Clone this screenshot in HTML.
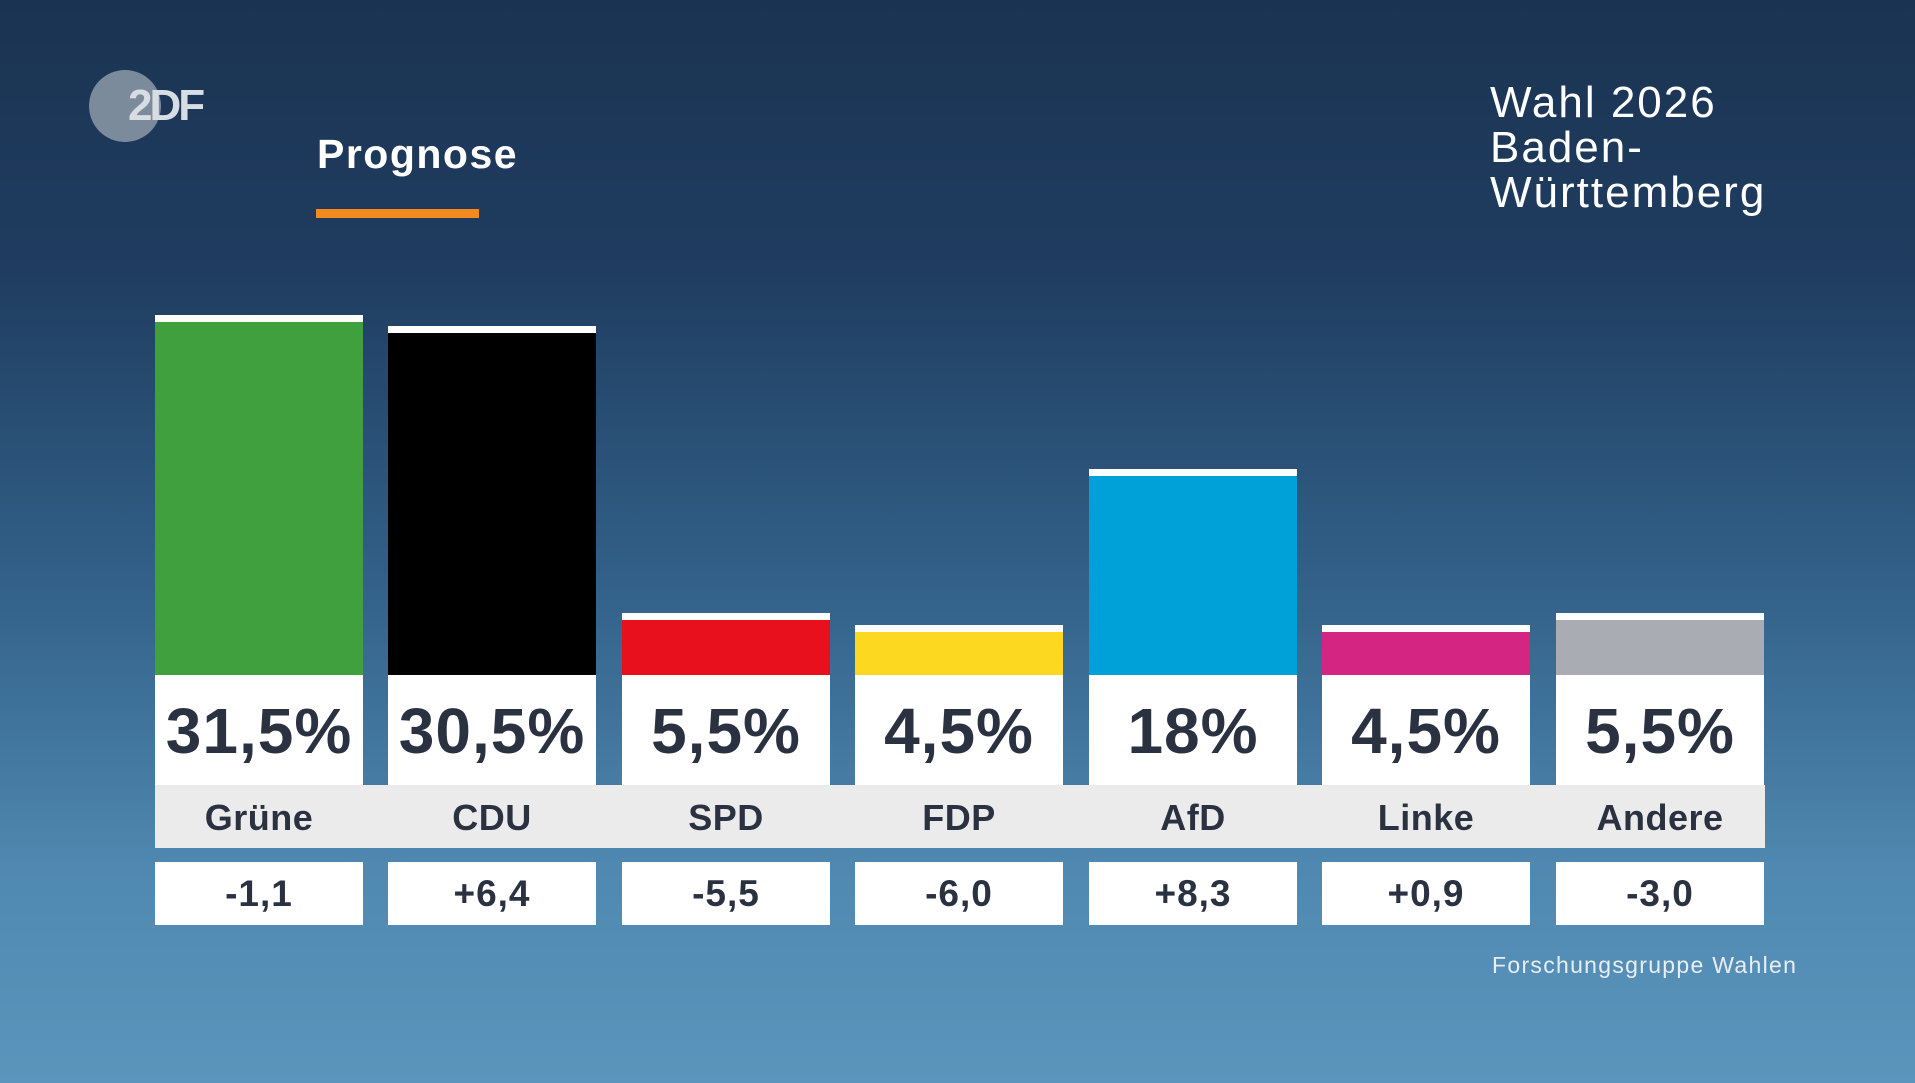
<!DOCTYPE html>
<html><head><meta charset="utf-8"><style>
*{margin:0;padding:0;box-sizing:border-box}
body{width:1915px;height:1083px;overflow:hidden;position:relative;font-family:"Liberation Sans",sans-serif;
background:linear-gradient(180deg,#1b3352 0%,#1f3d60 25%,#33628a 55%,#4f88b0 80%,#5b95bc 100%);}
.abs{position:absolute}
.cap{position:absolute;background:#fff;height:7px;width:208px}
.bar{position:absolute;width:208px}
.pct{position:absolute;top:675px;height:110px;width:208px;background:#fff;color:#2a3242;font-weight:bold;font-size:64px;text-align:center;line-height:112px;letter-spacing:1px}
.lbl{position:absolute;top:785px;height:63px;width:208px;color:#2a3242;font-weight:bold;font-size:36px;text-align:center;line-height:66px;letter-spacing:.5px}
.chg{position:absolute;top:862px;height:63px;width:208px;background:#fff;color:#2a3242;font-weight:bold;font-size:37px;text-align:center;line-height:64px;letter-spacing:1px}
</style></head><body>
<div class="abs" style="left:89px;top:70px;width:72px;height:72px;border-radius:50%;background:#8d9aa8;opacity:.85"></div>
<div class="abs" style="left:128px;top:84px;font-size:44px;font-weight:bold;color:#d8dde3;letter-spacing:-3px;line-height:44px">2DF</div>
<div class="abs" style="left:317px;top:130px;font-size:41px;font-weight:bold;color:#fff;line-height:48px;letter-spacing:1.5px">Prognose</div>
<div class="abs" style="left:316px;top:209px;width:163px;height:9px;background:#f28a1e"></div>
<div class="abs" style="left:1490px;top:80px;font-size:44px;color:#fff;line-height:45px;letter-spacing:2px">Wahl 2026<br>Baden-<br>Württemberg</div>
<div class="abs" style="left:155px;top:785px;width:1610px;height:63px;background:#ebebeb"></div>
<div class="abs" style="left:1492px;top:952px;font-size:23px;color:#e8eef4;letter-spacing:1.3px">Forschungsgruppe Wahlen</div>

<div class="cap" style="left:155px;top:315px"></div><div class="bar" style="left:155px;top:322px;height:353px;background:#41a03e"></div>
<div class="cap" style="left:388px;top:326px"></div><div class="bar" style="left:388px;top:333px;height:342px;background:#000"></div>
<div class="cap" style="left:622px;top:613px"></div><div class="bar" style="left:622px;top:620px;height:55px;background:#e8101c"></div>
<div class="cap" style="left:855px;top:625px"></div><div class="bar" style="left:855px;top:632px;height:43px;background:#fcd820"></div>
<div class="cap" style="left:1089px;top:469px"></div><div class="bar" style="left:1089px;top:476px;height:199px;background:#00a1d9"></div>
<div class="cap" style="left:1322px;top:625px"></div><div class="bar" style="left:1322px;top:632px;height:43px;background:#d42583"></div>
<div class="cap" style="left:1556px;top:613px"></div><div class="bar" style="left:1556px;top:620px;height:55px;background:#a9acb3"></div>

<div class="pct" style="left:155px">31,5%</div><div class="pct" style="left:388px">30,5%</div><div class="pct" style="left:622px">5,5%</div><div class="pct" style="left:855px">4,5%</div><div class="pct" style="left:1089px">18%</div><div class="pct" style="left:1322px">4,5%</div><div class="pct" style="left:1556px">5,5%</div>
<div class="lbl" style="left:155px">Grüne</div><div class="lbl" style="left:388px">CDU</div><div class="lbl" style="left:622px">SPD</div><div class="lbl" style="left:855px">FDP</div><div class="lbl" style="left:1089px">AfD</div><div class="lbl" style="left:1322px">Linke</div><div class="lbl" style="left:1556px">Andere</div>
<div class="chg" style="left:155px">-1,1</div><div class="chg" style="left:388px">+6,4</div><div class="chg" style="left:622px">-5,5</div><div class="chg" style="left:855px">-6,0</div><div class="chg" style="left:1089px">+8,3</div><div class="chg" style="left:1322px">+0,9</div><div class="chg" style="left:1556px">-3,0</div>
</body></html>
